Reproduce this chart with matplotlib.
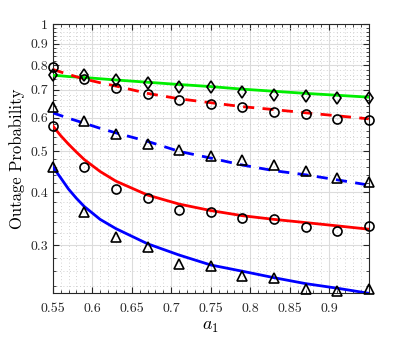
import numpy as np
import matplotlib
matplotlib.use("Agg")
import matplotlib.pyplot as plt
from matplotlib.ticker import FixedLocator, NullFormatter, FixedFormatter

# simulation points (markers)
a_sim = [0.55, 0.59, 0.63, 0.67, 0.71, 0.75, 0.79, 0.83, 0.87, 0.91, 0.95]
green_sim = [0.758, 0.757, 0.738, 0.726, 0.711, 0.711, 0.692, 0.681, 0.677, 0.670, 0.668]
red_dash_sim = [0.792, 0.743, 0.706, 0.683, 0.663, 0.647, 0.636, 0.621, 0.612, 0.596, 0.592]
blue_dash_sim = [0.638, 0.590, 0.551, 0.521, 0.505, 0.487, 0.476, 0.464, 0.450, 0.433, 0.424]
red_solid_sim = [0.574, 0.460, 0.407, 0.388, 0.364, 0.359, 0.348, 0.345, 0.331, 0.324, 0.332]
blue_solid_sim = [0.458, 0.360, 0.314, 0.296, 0.271, 0.267, 0.253, 0.251, 0.236, 0.234, 0.236]

# analytical curves
a_line = [0.55, 0.56, 0.57, 0.58, 0.59, 0.61, 0.63, 0.67, 0.71, 0.75, 0.79, 0.83, 0.87, 0.91, 0.95]
green_line = [0.757, 0.755, 0.752, 0.750, 0.748, 0.743, 0.738, 0.729, 0.720, 0.712, 0.702, 0.694, 0.686, 0.679, 0.672]
red_dash_line = [0.782, 0.771, 0.761, 0.751, 0.742, 0.727, 0.714, 0.686, 0.666, 0.652, 0.638, 0.628, 0.617, 0.607, 0.597]
blue_dash_line = [0.617, 0.608, 0.599, 0.591, 0.583, 0.567, 0.553, 0.528, 0.500, 0.482, 0.464, 0.450, 0.440, 0.428, 0.416]
red_solid_line = [0.575, 0.545, 0.520, 0.498, 0.478, 0.448, 0.425, 0.394, 0.375, 0.362, 0.352, 0.345, 0.339, 0.333, 0.327]
blue_solid_line = [0.460, 0.433, 0.407, 0.387, 0.370, 0.345, 0.328, 0.302, 0.284, 0.269, 0.260, 0.251, 0.243, 0.237, 0.2305]

x_ticks = [0.55, 0.6, 0.65, 0.7, 0.75, 0.8, 0.85, 0.9]
x_ticklabels = ["0.55", "0.6", "0.65", "0.7", "0.75", "0.8", "0.85", "0.9"]
y_ticks = [0.3, 0.4, 0.5, 0.6, 0.7, 0.8, 0.9, 1.0]
y_ticklabels = ["0.3", "0.4", "0.5", "0.6", "0.7", "0.8", "0.9", "1"]

plt.rcParams["font.family"] = ["cmr10", "DejaVu Serif"]
plt.rcParams["mathtext.fontset"] = "cm"
plt.rcParams["axes.formatter.use_mathtext"] = True

fig = plt.figure(figsize=(4.07, 3.37), dpi=100)
ax = fig.add_axes([0.1295, 0.1297, 0.7765, 0.7982])
ax.set_yscale("log")

ax.plot(a_line, green_line, color="#00ee00", lw=2, zorder=3)
ax.plot(a_line, red_dash_line, color="#ff0000", lw=2, ls=(0, (4, 3)), zorder=3)
ax.plot(a_line, blue_dash_line, color="#0000ff", lw=2, ls=(0, (4, 3)), zorder=3)
ax.plot(a_line, red_solid_line, color="#ff0000", lw=2, zorder=3)
ax.plot(a_line, blue_solid_line, color="#0000ff", lw=2, zorder=3)

mk = dict(ls="none", mfc="none", mec="black", mew=1.2, ms=6.5, zorder=4, clip_on=False)
ax.plot(a_sim, green_sim, marker="d", **mk)
ax.plot(a_sim, red_dash_sim, marker="o", **mk)
ax.plot(a_sim, blue_dash_sim, marker="^", **mk)
ax.plot(a_sim, red_solid_sim, marker="o", **mk)
ax.plot(a_sim, blue_solid_sim, marker="^", **mk)

ax.set_xlim(0.55, 0.95)
ax.set_ylim(0.2305, 1.0)

ax.xaxis.set_major_locator(FixedLocator(x_ticks))
ax.xaxis.set_major_formatter(FixedFormatter(x_ticklabels))
ax.xaxis.set_minor_locator(FixedLocator(np.round(np.arange(0.55, 0.951, 0.01), 2)))
ax.yaxis.set_major_locator(FixedLocator(y_ticks))
ax.yaxis.set_major_formatter(FixedFormatter(y_ticklabels))
y_minor = [v for v in np.round(np.arange(0.24, 0.99, 0.02), 2) if abs(v * 10 - round(v * 10)) > 1e-6]
ax.yaxis.set_minor_locator(FixedLocator(y_minor))
ax.yaxis.set_minor_formatter(NullFormatter())

ax.grid(True, which="major", color="#dcdcdc", lw=0.8, ls="-")
ax.grid(True, which="minor", color="#c4c4c4", lw=0.6, ls=(0, (1, 3)))
ax.set_axisbelow(True)

ax.tick_params(which="both", direction="in", top=True, right=True, labelsize=10, colors="#262626")
ax.tick_params(which="major", length=4)
ax.tick_params(which="minor", length=2)
ax.tick_params(axis="x", which="major", pad=7)
for s in ax.spines.values():
    s.set_color("#262626")
    s.set_linewidth(0.8)

ax.set_xlabel("$a_1$", fontsize=13, labelpad=3)
ax.set_ylabel("Outage Probability", fontsize=12)

fig.savefig("out.png", dpi=100)
